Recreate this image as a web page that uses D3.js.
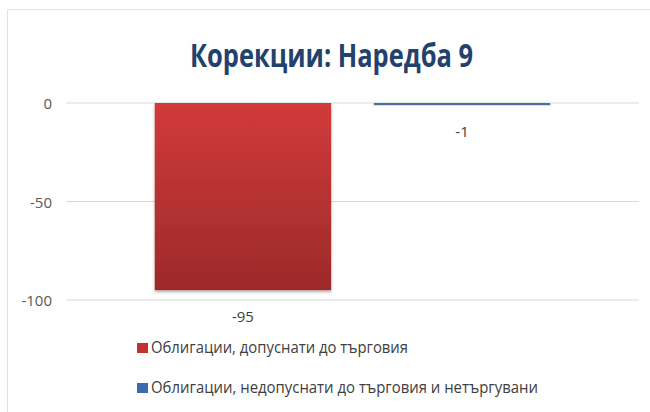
<!DOCTYPE html>
<html>
<head>
<meta charset="utf-8">
<style>
    body { margin: 0; background: #fff; }
    svg { display: block; font-family: 'Open Sans', 'Noto Sans', sans-serif; }
</style>
</head>
<body>
<svg width="650" height="412"></svg>
<script src="https://d3js.org/d3.v7.min.js"></script>
<script>
    // chart values
    let seriesNames = ["Облигации, допуснати до търговия", "Облигации, недопуснати до търговия и нетъргувани"]
    let seriesValues = [-95, -1]
    let yTicks = [0, -50, -100]
    let title = "Корекции: Наредба 9"

    let svg = d3.select("svg")

    // frame of the chart
    svg.append("rect")
        .attr("x", 7.5).attr("y", 9.5)
        .attr("width", 660).attr("height", 420)
        .style("fill", "#fff")
        .style("stroke", "#dfe3e3")

    let y = d3.scaleLinear().domain([0, -100]).range([103, 300])
    let x = d3.scaleBand().domain(seriesNames).range([66, 639])
        .paddingInner(0.195).paddingOuter(0.405)

    let defs = svg.append("defs")
    let grad = defs.append("linearGradient").attr("id", "red").attr("x1", 0).attr("y1", 0).attr("x2", 0).attr("y2", 1)
    grad.append("stop").attr("offset", "0%").attr("stop-color", "#d23a3a")
    grad.append("stop").attr("offset", "100%").attr("stop-color", "#9c2a2a")
    let shadow = defs.append("filter").attr("id", "sh").attr("x", "-10%").attr("y", "-10%").attr("width", "120%").attr("height", "120%")
    shadow.append("feDropShadow").attr("dx", 0).attr("dy", 2).attr("stdDeviation", 1.5).attr("flood-opacity", 0.3)

    // gridlines
    svg.append("g")
        .selectAll("line")
        .data(yTicks)
        .join("line")
        .attr("x1", 66).attr("x2", 639)
        .attr("y1", d => y(d)).attr("y2", d => y(d))
        .style("stroke", "#d9d9d9")
        .style("stroke-width", 1)

    svg.append("g")
        .selectAll("text")
        .data(yTicks)
        .join("text")
        .attr("x", 52)
        .attr("y", d => y(d) + 6)
        .attr("text-anchor", "end")
        .style("font-size", "15px")
        .style("fill", "#595959")
        .text(d => d)

    let colors = ["url(#red)", "#4f6f9c"]

    svg.append("g")
        .selectAll("rect")
        .data(seriesValues)
        .join("rect")
        .attr("x", (d, i) => x(seriesNames[i]))
        .attr("width", x.bandwidth())
        .attr("y", y(0))
        .attr("height", d => Math.max(2, y(d) - y(0)))
        .style("fill", (d, i) => colors[i])
        .attr("filter", "url(#sh)")

    // value labels
    svg.append("g")
        .selectAll("text")
        .data(seriesValues)
        .join("text")
        .attr("x", (d, i) => x(seriesNames[i]) + x.bandwidth() / 2)
        .attr("y", d => Math.max(y(d), y(0) + 2) + 32)
        .attr("text-anchor", "middle")
        .style("font-size", "15px")
        .style("fill", "#404040")
        .text(d => d)

    svg.append("text")
        .attr("x", 190).attr("y", 67)
        .attr("textLength", 283)
        .attr("lengthAdjust", "spacingAndGlyphs")
        .style("font-size", "33px")
        .style("font-weight", "bold")
        .style("fill", "#22416c")
        .text(title)

    // legend
    let legendWidths = [257, 387]
    let legend = svg.append("g")
        .selectAll("g")
        .data(seriesNames)
        .join("g")
        .attr("transform", (d, i) => `translate(137, ${343 + i * 40})`)
    legend.append("rect")
        .attr("width", 11).attr("height", 10)
        .style("fill", (d, i) => i == 0 ? "#c0312f" : "#3a6ab0")
    legend.append("text")
        .attr("x", 14).attr("y", 10)
        .attr("textLength", (d, i) => legendWidths[i])
        .attr("lengthAdjust", "spacingAndGlyphs")
        .style("font-size", "17px")
        .style("fill", "#404040")
        .text(d => d)
</script>
</body>
</html>
